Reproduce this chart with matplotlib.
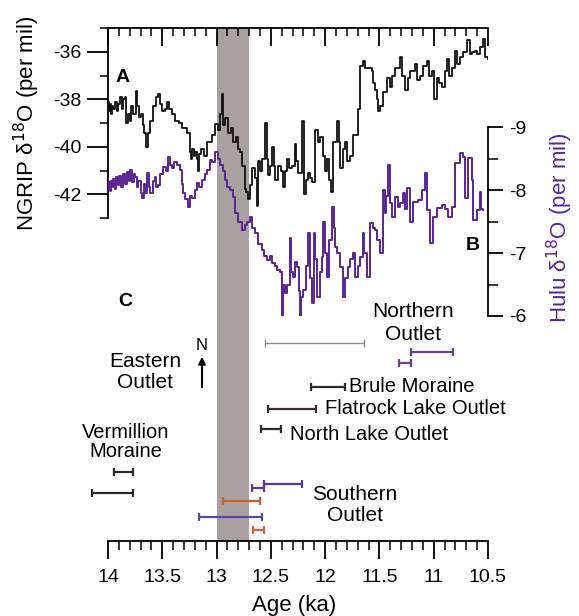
import matplotlib
matplotlib.use('Agg')
import matplotlib.pyplot as plt
from matplotlib.ticker import MultipleLocator, FixedLocator

plt.rcParams['font.family'] = ['Liberation Sans', 'DejaVu Sans']
plt.rcParams['axes.unicode_minus'] = False

# ---------------- data ----------------
ngrip_age = [14.000, 13.990, 13.980, 13.970, 13.960, 13.950, 13.935, 13.920, 13.905, 13.890,
             13.875, 13.860, 13.843, 13.830, 13.816, 13.800, 13.785, 13.770, 13.742, 13.730,
             13.715, 13.700, 13.680, 13.665, 13.650, 13.632, 13.610, 13.590, 13.558, 13.540,
             13.520, 13.500, 13.475, 13.460, 13.440, 13.411, 13.383, 13.350, 13.319, 13.273,
             13.245, 13.235, 13.225, 13.210, 13.195, 13.180, 13.171, 13.160, 13.140, 13.120,
             13.088, 13.042, 13.015, 12.990, 12.965, 12.950, 12.941, 12.920, 12.895, 12.870,
             12.849, 12.825, 12.803, 12.785, 12.766, 12.738, 12.725, 12.711, 12.690, 12.674,
             12.650, 12.628, 12.619, 12.600, 12.582, 12.554, 12.540, 12.527, 12.510, 12.490,
             12.475, 12.462, 12.435, 12.410, 12.389, 12.370, 12.352, 12.330, 12.306, 12.278,
             12.265, 12.250, 12.214, 12.195, 12.180, 12.158, 12.140, 12.122, 12.094, 12.070,
             12.048, 12.020, 12.000, 11.983, 11.965, 11.947, 11.928, 11.891, 11.875, 11.864,
             11.840, 11.818, 11.800, 11.772, 11.744, 11.726, 11.698, 11.680, 11.652, 11.630,
             11.606, 11.569, 11.555, 11.541, 11.525, 11.514, 11.495, 11.468, 11.431, 11.403,
             11.380, 11.357, 11.311, 11.290, 11.265, 11.240, 11.219, 11.173, 11.150, 11.127,
             11.100, 11.063, 11.040, 11.017, 10.998, 10.971, 10.950, 10.925, 10.900, 10.878,
             10.860, 10.832, 10.805, 10.785, 10.759, 10.730, 10.694, 10.667, 10.650, 10.621,
             10.600, 10.575, 10.547, 10.529, 10.501]
ngrip_d18o = [-38.1, -38.5, -38.2, -38.6, -38.3, -38.4, -38.1, -38.5, -38.2, -37.9,
              -38.4, -38.0, -37.9, -39.0, -38.6, -38.9, -38.3, -38.6, -37.65, -38.3,
              -38.75, -38.6, -39.1, -39.4, -40.0, -39.4, -38.9, -38.3, -37.9, -37.8,
              -38.2, -38.5, -38.4, -38.1, -38.4, -38.6, -38.9, -39.0, -39.2, -39.4,
              -40.2, -40.5, -40.1, -40.4, -40.2, -40.5, -41.0, -40.3, -40.1, -40.4,
              -39.8, -39.5, -39.05, -39.3, -38.6, -37.8, -39.1, -38.8, -39.4, -39.2,
              -39.8, -39.6, -40.1, -40.2, -40.8, -41.8, -41.9, -42.2, -41.6, -40.9,
              -41.3, -42.5, -40.6, -41.0, -40.5, -39.0, -40.5, -41.2, -40.8, -40.0,
              -40.8, -41.4, -40.8, -41.0, -41.7, -41.0, -40.5, -40.9, -40.8, -39.9,
              -40.6, -41.1, -38.9, -42.0, -41.4, -41.1, -41.3, -41.5, -39.3, -39.8,
              -39.6, -40.4, -41.0, -40.5, -41.4, -41.9, -39.8, -38.9, -39.8, -40.9,
              -40.1, -39.8, -40.6, -40.4, -39.5, -39.5, -38.4, -36.6, -36.4, -36.7,
              -36.7, -36.8, -37.3, -37.6, -38.0, -38.5, -38.3, -37.7, -37.1, -37.5,
              -37.0, -36.7, -36.2, -37.0, -37.6, -37.1, -36.8, -36.5, -37.2, -37.0,
              -36.6, -36.4, -37.0, -36.8, -38.0, -37.1, -37.3, -37.5, -36.8, -36.3,
              -37.0, -36.7, -35.95, -36.5, -36.2, -36.0, -35.5, -36.1, -36.0, -35.95,
              -36.1, -35.8, -35.45, -36.2, -36.3]

hulu_age = [14.000, 13.990, 13.980, 13.970, 13.963, 13.950, 13.940, 13.925, 13.908, 13.895,
            13.880, 13.860, 13.843, 13.825, 13.810, 13.797, 13.780, 13.765, 13.751, 13.735,
            13.720, 13.700, 13.687, 13.670, 13.655, 13.641, 13.625, 13.613, 13.590, 13.567,
            13.555, 13.540, 13.520, 13.494, 13.470, 13.448, 13.430, 13.411, 13.390, 13.365,
            13.337, 13.320, 13.309, 13.290, 13.263, 13.245, 13.227, 13.200, 13.180, 13.160,
            13.134, 13.110, 13.088, 13.061, 13.040, 13.015, 12.990, 12.969, 12.945, 12.923,
            12.900, 12.875, 12.849, 12.831, 12.800, 12.766, 12.740, 12.720, 12.692, 12.670,
            12.646, 12.620, 12.582, 12.560, 12.536, 12.510, 12.490, 12.465, 12.444, 12.420,
            12.398, 12.385, 12.370, 12.350, 12.324, 12.310, 12.297, 12.280, 12.260, 12.245,
            12.232, 12.220, 12.204, 12.180, 12.158, 12.140, 12.122, 12.103, 12.090, 12.076,
            12.050, 12.029, 12.020, 12.000, 11.983, 11.960, 11.937, 11.920, 11.910, 11.890,
            11.864, 11.836, 11.815, 11.790, 11.770, 11.744, 11.726, 11.700, 11.680, 11.652,
            11.640, 11.615, 11.587, 11.560, 11.541, 11.520, 11.495, 11.468, 11.449, 11.435,
            11.422, 11.405, 11.385, 11.357, 11.330, 11.310, 11.284, 11.265, 11.247, 11.219,
            11.192, 11.145, 11.109, 11.081, 11.063, 11.035, 11.007, 10.971, 10.925, 10.900,
            10.869, 10.832, 10.805, 10.759, 10.731, 10.713, 10.685, 10.648, 10.639, 10.602,
            10.575, 10.560, 10.547]
hulu_d18o = [-8.00, -8.12, -7.98, -8.15, -8.05, -8.18, -8.02, -8.20, -8.08, -8.22,
             -8.05, -8.25, -8.10, -8.28, -8.15, -8.32, -8.12, -8.25, -8.20, -8.05,
             -8.15, -7.95, -7.87, -8.10, -7.95, -8.27, -8.05, -7.95, -8.15, -8.20,
             -8.05, -8.08, -8.25, -8.37, -8.30, -8.52, -8.40, -8.35, -8.45, -8.40,
             -8.32, -8.10, -7.95, -7.85, -7.73, -7.90, -7.87, -8.00, -8.11, -8.05,
             -8.16, -8.25, -8.32, -8.48, -8.45, -8.60, -8.50, -8.40, -8.30, -8.16,
             -8.05, -8.00, -7.89, -7.63, -7.50, -7.37, -7.45, -7.50, -7.57, -7.40,
             -7.32, -7.15, -7.05, -6.95, -6.89, -6.95, -6.84, -6.80, -6.73, -6.70,
             -5.89, -6.50, -6.37, -6.50, -7.24, -6.70, -6.62, -6.85, -6.78, -6.40,
             -5.94, -6.30, -6.41, -6.80, -7.32, -6.60, -6.21, -7.32, -6.90, -6.30,
             -6.70, -6.94, -7.49, -7.00, -6.62, -7.20, -7.73, -7.40, -7.10, -7.00,
             -6.78, -6.30, -6.60, -6.78, -6.90, -7.00, -6.62, -6.80, -6.94, -7.32,
             -7.00, -6.62, -7.48, -7.40, -7.37, -7.20, -7.00, -8.00, -7.63, -7.90,
             -8.40, -7.80, -7.57, -7.89, -7.73, -7.80, -7.95, -7.70, -8.03, -7.49,
             -7.81, -7.84, -8.00, -8.27, -7.68, -7.16, -7.57, -7.71, -7.76, -7.70,
             -7.57, -7.73, -8.43, -8.59, -8.52, -7.87, -8.51, -8.16, -7.52, -7.68,
             -7.97, -7.70, -7.68]

# age ranges of dated features (ka): start (older) and end (younger)
range_start = [12.55, 11.21, 11.32, 12.13, 12.53, 12.59, 13.945, 14.15, 12.67, 12.56, 12.94, 13.16, 12.66]
range_end   = [11.64, 10.82, 11.21, 11.82, 12.08, 12.41, 13.77, 13.77, 12.56, 12.21, 12.60, 12.58, 12.56]
range_color = ['#8a8a8a', '#6b3f98', '#6b3f98', '#2a2a2a', '#3a2a28', '#2a2a2a', '#2a2a2a',
               '#2a2a2a', '#5b3597', '#5b3597', '#c4603a', '#5a4a9e', '#d0603c']
range_row   = [0.386, 0.368, 0.347, 0.300, 0.257, 0.218, 0.1345, 0.0936, 0.103, 0.111,
               0.078, 0.0468, 0.0214]

band_old, band_young = 13.0, 12.7
xticks = [14, 13.5, 13, 12.5, 12, 11.5, 11, 10.5]
xticklabels = ['14', '13.5', '13', '12.5', '12', '11.5', '11', '10.5']
ngrip_ticks = [-36, -38, -40, -42]
hulu_ticks = [-9, -8, -7, -6]

HULU = '#5a2591'

# ---------------- figure ----------------
W, H = 579, 616
fig = plt.figure(figsize=(W / 100, H / 100), dpi=100)

def fx(px):
    return px / W

def fy(py):
    return 1 - py / H

L, R, T, B = 108, 488, 28, 541

# background axes (grey band, bottom axis, age ranges)
ax0 = fig.add_axes([fx(L), fy(B), fx(R) - fx(L), fy(T) - fy(B)])
ax0.set_xlim(14, 10.5)
ax0.set_ylim(0, 1)
for s in ['left', 'right', 'top']:
    ax0.spines[s].set_visible(False)
ax0.spines['bottom'].set_linewidth(1.3)
ax0.set_yticks([])
ax0.xaxis.set_major_locator(FixedLocator(xticks))
ax0.set_xticklabels(xticklabels)
ax0.xaxis.set_minor_locator(MultipleLocator(0.1))
ax0.tick_params(axis='x', which='major', direction='out', length=13, width=1.3,
                labelsize=14, pad=7)
ax0.tick_params(axis='x', which='minor', direction='out', length=6.5, width=1.1)
ax0.axvspan(band_young, band_old, color='#a9a1a0', lw=0, zorder=0)
ax0.set_xlabel('Age (ka)', fontsize=16, labelpad=0)
ax0.xaxis.set_label_coords(0.49, -0.105)

for s0, e0, c, r in zip(range_start, range_end, range_color, range_row):
    mid = (s0 + e0) / 2
    half = abs(s0 - e0) / 2
    lw = 1.0 if c == '#8a8a8a' else 1.6
    ax0.errorbar([mid], [r], xerr=[half], fmt='none', ecolor=c, elinewidth=lw,
                 capsize=3, capthick=lw, clip_on=False, zorder=3)

# NGRIP axes
ax1 = fig.add_axes([fx(L), fy(218), fx(R) - fx(L), fy(T) - fy(218)])
ax1.patch.set_alpha(0)
ax1.set_xlim(14, 10.5)
ax1.set_ylim(-43, -35)
for s in ['right', 'bottom']:
    ax1.spines[s].set_visible(False)
ax1.spines['left'].set_linewidth(1.3)
ax1.spines['top'].set_linewidth(1.3)
ax1.plot(ngrip_age, ngrip_d18o, color='#111111', lw=1.3, drawstyle='steps-post', zorder=4)
ax1.xaxis.set_ticks_position('top')
ax1.xaxis.set_major_locator(MultipleLocator(0.5))
ax1.xaxis.set_minor_locator(MultipleLocator(0.1))
ax1.tick_params(axis='x', which='major', direction='in', length=13, width=1.3, labeltop=False)
ax1.tick_params(axis='x', which='minor', direction='in', length=5.5, width=1.1)
ax1.yaxis.set_major_locator(FixedLocator(ngrip_ticks))
ax1.yaxis.set_minor_locator(MultipleLocator(1))
ax1.tick_params(axis='y', which='major', direction='out', length=15, width=1.3,
                labelsize=14, pad=4)
ax1.tick_params(axis='y', which='minor', direction='out', length=6, width=1.1)

# Hulu axes
ax2 = fig.add_axes([fx(L), fy(316), fx(R) - fx(L), fy(127) - fy(316)])
ax2.patch.set_alpha(0)
ax2.set_xlim(14, 10.5)
ax2.set_ylim(-6, -9)
for s in ['left', 'top', 'bottom']:
    ax2.spines[s].set_visible(False)
ax2.spines['right'].set_linewidth(1.3)
ax2.set_xticks([])
ax2.plot(hulu_age, hulu_d18o, color=HULU, lw=1.4, drawstyle='steps-post', zorder=4)
ax2.yaxis.set_ticks_position('right')
ax2.yaxis.set_major_locator(FixedLocator(hulu_ticks))
ax2.yaxis.set_minor_locator(MultipleLocator(0.5))
ax2.tick_params(axis='y', which='major', direction='out', length=11, width=1.3,
                labelsize=14, pad=4)
ax2.tick_params(axis='y', which='minor', direction='out', length=7, width=1.1)

# axis labels
fig.text(fx(27), fy(123), 'NGRIP δ$^{18}$O (per mil)', rotation=90, ha='center',
         va='center', fontsize=16)
fig.text(fx(560), fy(228), 'Hulu δ$^{18}$O (per mil)', rotation=90, ha='center',
         va='center', fontsize=16, color=HULU)

# panel letters
fig.text(fx(123), fy(77), 'A', fontsize=14, fontweight='bold', ha='center', va='center')
fig.text(fx(473), fy(245), 'B', fontsize=14, fontweight='bold', ha='center', va='center')
fig.text(fx(125), fy(302), 'C', fontsize=14, fontweight='bold', ha='center', va='center')

# annotations
fig.text(fx(413), fy(323), 'Northern\nOutlet', fontsize=15, ha='center', va='center',
         linespacing=1.25)
fig.text(fx(145), fy(372), 'Eastern\nOutlet', fontsize=15, ha='center', va='center',
         linespacing=1.15)
fig.text(fx(202), fy(346), 'N', fontsize=12, ha='center', va='center')
fig.add_artist(matplotlib.patches.FancyArrowPatch(
    (fx(202), fy(390)), (fx(202), fy(354)), transform=fig.transFigure,
    arrowstyle='-|>', mutation_scale=10, lw=1.5, color='black'))
fig.text(fx(126), fy(442), 'Vermillion\nMoraine', fontsize=14.5, ha='center', va='center',
         linespacing=1.05)
fig.text(fx(349), fy(387), 'Brule Moraine', fontsize=14.5, ha='left', va='center')
fig.text(fx(325), fy(409), 'Flatrock Lake Outlet', fontsize=14.5, ha='left', va='center')
fig.text(fx(290), fy(435), 'North Lake Outlet', fontsize=14.5, ha='left', va='center')
fig.text(fx(355), fy(505), 'Southern\nOutlet', fontsize=15, ha='center', va='center',
         linespacing=1.15)

fig.savefig('out.png', dpi=100)
